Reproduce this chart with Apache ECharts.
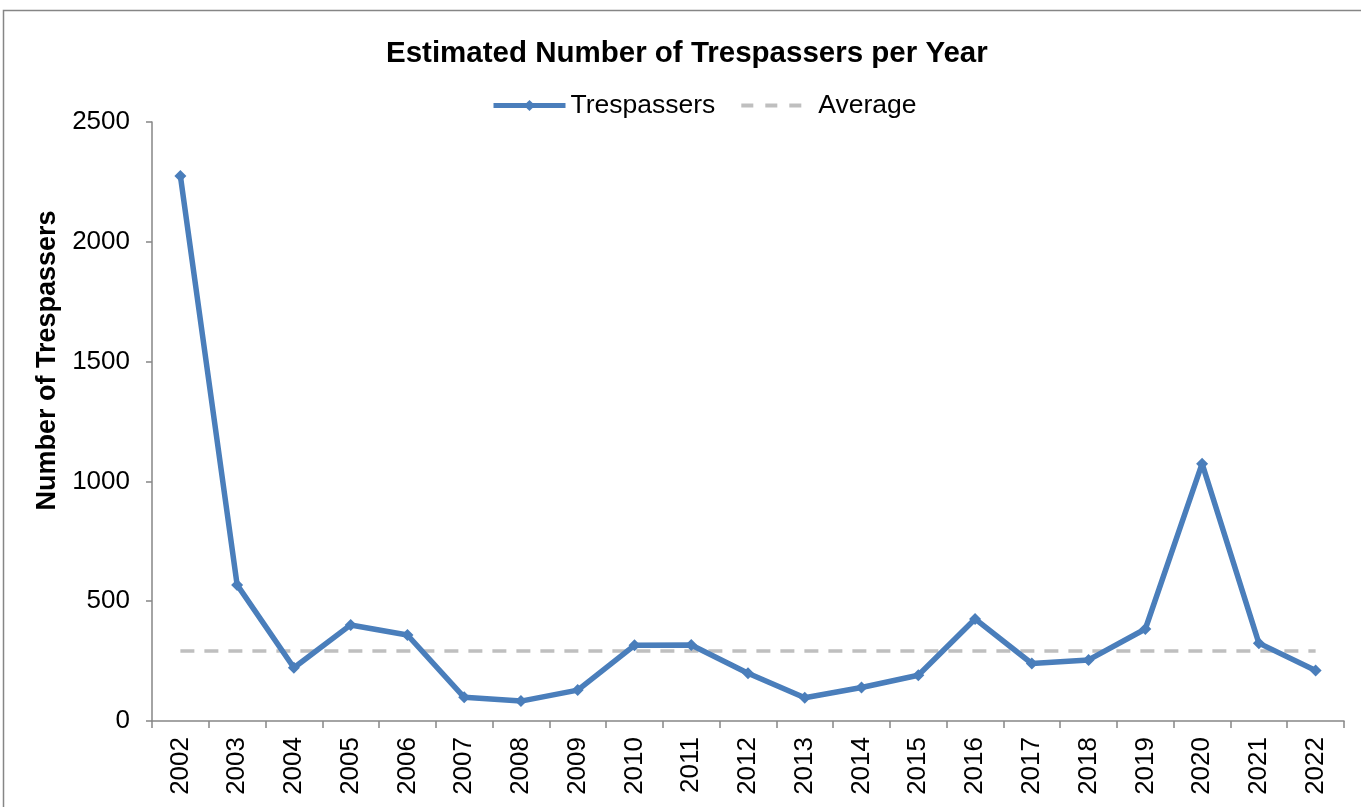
<!DOCTYPE html>
<html>
<head>
<meta charset="utf-8">
<script src="https://cdn.jsdelivr.net/npm/echarts@6/dist/echarts.min.js"></script>
<style>
  html, body { margin: 0; padding: 0; background: #ffffff; }
  #chart { width: 1361px; height: 807px; }
</style>
</head>
<body>
<div id="chart"></div>
<script>
// Years shown on the category axis
const years = ['2002', '2003', '2004', '2005', '2006', '2007', '2008', '2009', '2010', '2011',
  '2012', '2013', '2014', '2015', '2016', '2017', '2018', '2019', '2020', '2021', '2022'];

// Estimated trespassers per year
const trespassers = [2275, 568, 222, 401, 359, 99, 83, 129, 316, 317,
  199, 97, 140, 191, 426, 240, 255, 384, 1074, 325, 211];

// Reference average level
const averageLevel = 292;
const averageLine = years.map(() => averageLevel);

const FONT = '"Liberation Sans", Arial, sans-serif';
const BLUE = '#4A7EBB';
const GREY = '#BFBFBF';

const chart = echarts.init(document.getElementById('chart'), null, { renderer: 'canvas' });

chart.setOption({
  backgroundColor: '#ffffff',
  animation: false,
  textStyle: { fontFamily: FONT, color: '#000000' },
  graphic: [{
    type: 'rect',
    shape: { x: 3.5, y: 10.5, width: 1400, height: 900 },
    style: { fill: 'none', stroke: '#868686', lineWidth: 1.5 },
    silent: true
  }],
  title: {
    text: 'Estimated Number of Trespassers per Year',
    left: 381,
    top: 34,
    textStyle: { fontFamily: FONT, fontSize: 29.5, fontWeight: 'bold', color: '#000000' }
  },
  legend: {
    top: 87,
    left: 486,
    itemWidth: 72,
    itemHeight: 14,
    itemGap: 24,
    textStyle: { fontFamily: FONT, fontSize: 26.5, color: '#000000' },
    data: [
      { name: 'Trespassers', lineStyle: { width: 5, color: BLUE } },
      { name: 'Average', lineStyle: { width: 4, color: GREY, type: [12, 12] }, itemStyle: { opacity: 0 } }
    ]
  },
  grid: { left: 152, right: 17, top: 122, bottom: 86, containLabel: false },
  xAxis: {
    type: 'category',
    data: years,
    boundaryGap: true,
    axisLine: { lineStyle: { color: '#868686', width: 1.5 } },
    axisTick: { show: true, alignWithLabel: false, length: 7, lineStyle: { color: '#868686', width: 1.5 } },
    axisLabel: { rotate: 90, margin: 16, fontSize: 26, fontFamily: FONT, color: '#000000', interval: 0 },
    splitLine: { show: false }
  },
  yAxis: {
    type: 'value',
    min: 0,
    max: 2500,
    interval: 500,
    name: 'Number of Trespassers',
    nameLocation: 'middle',
    nameGap: 82,
    nameTextStyle: {
      fontFamily: FONT, fontSize: 27, fontWeight: 'bold', color: '#000000',
      padding: [0, 0, 0, 122]
    },
    axisLine: { show: true, lineStyle: { color: '#868686', width: 1.5 } },
    axisTick: { show: true, length: 6, lineStyle: { color: '#868686', width: 1.5 } },
    axisLabel: { margin: 22, fontSize: 26, fontFamily: FONT, color: '#000000', formatter: (v) => String(v) },
    splitLine: { show: false }
  },
  series: [
    {
      name: 'Trespassers',
      type: 'line',
      data: trespassers,
      symbol: 'diamond',
      symbolSize: 12,
      lineStyle: { color: BLUE, width: 5.5 },
      itemStyle: { color: BLUE },
      z: 3
    },
    {
      name: 'Average',
      type: 'line',
      data: averageLine,
      symbol: 'none',
      lineStyle: { color: GREY, width: 3.5, type: [14, 10] },
      itemStyle: { color: GREY },
      z: 2
    }
  ]
});
</script>
</body>
</html>
